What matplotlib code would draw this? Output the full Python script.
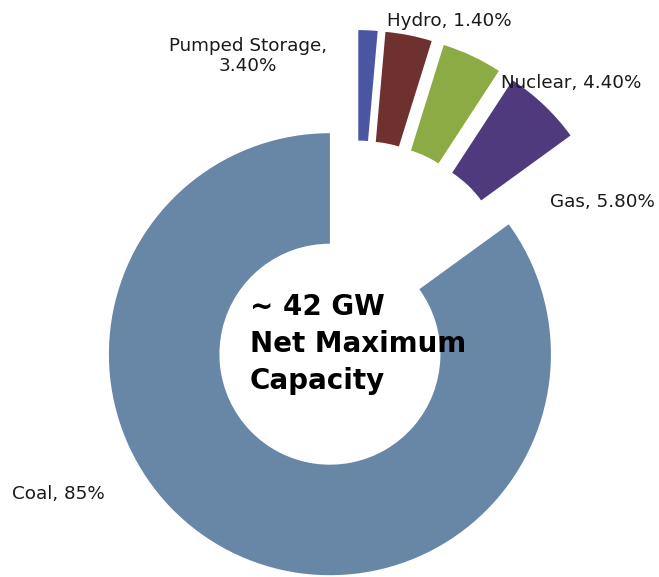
import matplotlib.pyplot as plt

# generation mix, clockwise from 12 o'clock
sources = ['Hydro', 'Pumped Storage', 'Nuclear', 'Gas', 'Coal']
shares = [1.4, 3.4, 4.4, 5.8, 85]
colors = ['#4b56a3', '#6f3030', '#8dab44', '#4e3a7d', '#6886a6']
label_text = ['Hydro, 1.40%', 'Pumped Storage,\n3.40%', 'Nuclear, 4.40%',
              'Gas, 5.80%', 'Coal, 85%']
# label anchor points in figure pixels (x, y from top)
label_pos = [(449, 21), (248, 56), (571, 83), (602, 202), (58, 494)]

W, H = 659, 577
fig = plt.figure(figsize=(W / 100, H / 100), dpi=100)
ax = fig.add_axes([0, 0, 1, 1])

# every slice is pulled out a little, like an exploded Excel doughnut
explode = [0.235 if s != 'Coal' else 0.26 for s in sources]
ax.pie(shares, colors=colors, startangle=90, counterclock=False,
       explode=explode, radius=1,
       wedgeprops=dict(width=0.5, edgecolor='none'))

# pie origin sits at (356, 303) px, radius ~221 px
cx, cy, R = 356, 303, 221
ax.set_xlim(-cx / R, (W - cx) / R)
ax.set_ylim(-(H - cy) / R, cy / R)
ax.set_aspect('equal')
ax.axis('off')

for txt, (px, py) in zip(label_text, label_pos):
    fig.text(px / W, 1 - py / H, txt, ha='center', va='center',
             fontsize=13.2, color='#1a1a1a', linespacing=1.1)

fig.text(250 / W, 1 - 344 / H, '~ 42 GW\nNet Maximum\nCapacity',
         ha='left', va='center', fontsize=20, fontweight='bold',
         color='black', linespacing=1.42)

fig.savefig('out.png', dpi=100)
